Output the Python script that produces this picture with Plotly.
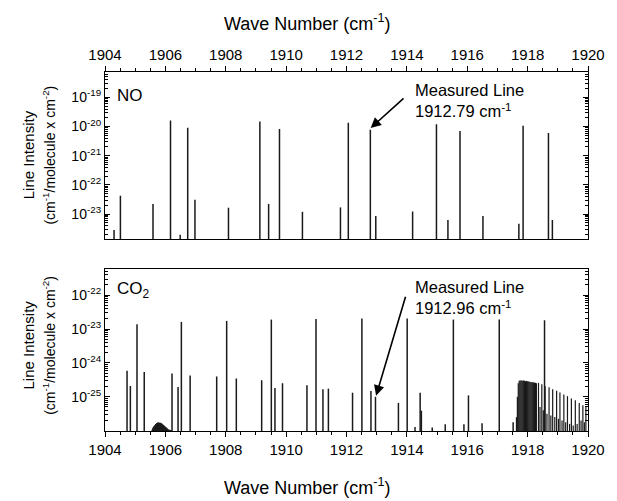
import plotly.graph_objects as go

# ---------------- data ----------------
# NO lines: wavenumber (cm-1) and log10 line intensity
no_wn = [1904.30, 1904.51, 1905.59, 1906.17, 1906.49, 1906.74, 1906.98, 1908.09,
         1909.13, 1909.42, 1909.78, 1910.54, 1911.80, 1912.06, 1912.79, 1912.97,
         1914.19, 1914.98, 1915.36, 1915.76, 1916.52, 1917.71, 1917.85, 1918.69, 1918.82]
no_log = [-23.54, -22.37, -22.65, -19.79, -23.71, -20.04, -22.51, -22.78,
          -19.83, -22.65, -20.08, -22.92, -22.77, -19.87, -20.11, -23.06,
          -22.91, -19.92, -23.20, -20.15, -23.06, -23.33, -19.97, -20.22, -23.20]

# CO2 lines
co2_wn = [1904.73, 1904.84, 1905.06, 1905.30, 1906.22, 1906.42, 1906.53, 1906.82,
          1907.70, 1908.03, 1908.35, 1909.19, 1909.51, 1909.63, 1909.88, 1910.69,
          1910.99, 1911.22, 1911.40, 1912.20, 1912.51, 1912.81, 1912.96, 1913.72,
          1914.01, 1914.27, 1914.44, 1914.48, 1914.84, 1915.27, 1915.54, 1915.89,
          1916.04, 1916.49, 1917.06, 1917.52, 1918.56]
co2_log = [-24.23, -24.68, -22.86, -24.27, -24.31, -24.71, -22.79, -24.37,
           -24.40, -22.76, -24.46, -24.51, -22.72, -24.74, -24.60, -24.66,
           -22.70, -24.78, -24.76, -24.88, -22.69, -24.83, -25.00, -25.18,
           -22.69, -25.89, -24.88, -25.41, -25.91, -25.81, -22.72, -25.81,
           -24.96, -25.78, -22.72, -25.75, -22.74]

# CO2 dense band lines near 1918 cm-1
band_wn = [1917.63, 1917.66, 1917.69, 1917.72, 1917.75, 1917.78, 1917.81, 1917.84,
           1917.87, 1917.90, 1917.93, 1917.96, 1917.99, 1918.02, 1918.05, 1918.08,
           1918.11, 1918.14, 1918.17, 1918.20, 1918.23, 1918.26, 1918.29,
           1918.36, 1918.47, 1918.58, 1918.71, 1918.83, 1918.96, 1919.07, 1919.20,
           1919.32, 1919.45, 1919.58, 1919.71, 1919.83, 1919.93,
           1918.41, 1918.52, 1918.64, 1918.77, 1918.90, 1919.02, 1919.14, 1919.26,
           1919.39, 1919.51, 1919.64, 1919.77, 1919.88]
band_log = [-25.60, -25.00, -24.60, -24.53, -24.52, -24.52, -24.52, -24.53,
            -24.52, -24.53, -24.54, -24.53, -24.54, -24.55, -24.55, -24.56,
            -24.56, -24.57, -24.57, -24.58, -24.58, -24.59, -24.60,
            -24.59, -24.63, -24.69, -24.72, -24.78, -24.82, -24.87, -24.93,
            -24.98, -25.05, -25.10, -25.18, -25.25, -25.30,
            -25.30, -25.40, -25.50, -25.55, -25.60, -25.65, -25.70, -25.75,
            -25.80, -25.85, -25.80, -25.70, -25.75]

# CO2 weak hump near 1905.8 cm-1 (envelope of very weak lines)
hump_wn = [1905.55, 1905.60, 1905.65, 1905.70, 1905.75, 1905.80, 1905.85, 1905.90,
           1905.95, 1906.00, 1906.05, 1906.10, 1906.15, 1906.20]
hump_log = [-26.01, -25.90, -25.83, -25.79, -25.77, -25.77, -25.78, -25.81,
            -25.85, -25.90, -25.94, -25.97, -25.99, -26.00]

x_ticks = [1904, 1906, 1908, 1910, 1912, 1914, 1916, 1918, 1920]
no_ytick_exp = [-19, -20, -21, -22, -23]
co2_ytick_exp = [-22, -23, -24, -25]

# ---------------- helpers ----------------
BASE = 1e-30


def stick_xy(wn, lg):
    xs, ys = [], []
    for w, l in zip(wn, lg):
        xs += [w, w, None]
        ys += [BASE, 10 ** l, None]
    return xs, ys


def minor_vals(lo, hi):
    vals = []
    for d in range(lo, hi):
        for k in range(2, 10):
            vals.append(k * 10.0 ** d)
    return vals


FONT = "Liberation Sans, Arial, Helvetica, sans-serif"
LC = "#1a1a1a"

fig = go.Figure()

x1, y1 = stick_xy(no_wn, no_log)
fig.add_trace(go.Scatter(x=x1, y=y1, mode="lines", line=dict(color=LC, width=1.5),
                         xaxis="x", yaxis="y", showlegend=False, hoverinfo="skip"))

x2, y2 = stick_xy(co2_wn, co2_log)
fig.add_trace(go.Scatter(x=x2, y=y2, mode="lines", line=dict(color=LC, width=1.5),
                         xaxis="x2", yaxis="y2", showlegend=False, hoverinfo="skip"))

x3, y3 = stick_xy(band_wn, band_log)
fig.add_trace(go.Scatter(x=x3, y=y3, mode="lines", line=dict(color=LC, width=1.2),
                         xaxis="x2", yaxis="y2", showlegend=False, hoverinfo="skip"))

hx = [hump_wn[0]] + hump_wn + [hump_wn[-1]]
hy = [BASE] + [10 ** v for v in hump_log] + [BASE]
fig.add_trace(go.Scatter(x=hx, y=hy, mode="lines", fill="toself", fillcolor=LC,
                         line=dict(color=LC, width=1), xaxis="x2", yaxis="y2",
                         showlegend=False, hoverinfo="skip"))


def sup_text(e):
    return "10<sup>%d</sup>" % e


common_x = dict(range=[1904, 1920], tickmode="array", tickvals=x_ticks,
                ticktext=[str(v) for v in x_ticks], showline=True, linecolor="black",
                linewidth=1.2, mirror=True, ticks="outside", ticklen=5, tickcolor="black",
                showgrid=False, zeroline=False,
                minor=dict(tickmode="array",
                           tickvals=[1904 + 0.5 * i for i in range(33)],
                           ticks="outside", ticklen=3, tickcolor="black", showgrid=False),
                tickfont=dict(family=FONT, size=15, color="black"))

common_y = dict(type="log", showline=True, linecolor="black", linewidth=1.2,
                mirror="ticks", ticks="inside", ticklen=5, tickcolor="black",
                showgrid=False, zeroline=False,
                tickfont=dict(family=FONT, size=14, color="black"))

fig.update_layout(
    width=617, height=501,
    margin=dict(l=105, r=20, t=72, b=70),
    paper_bgcolor="white", plot_bgcolor="white",
    font=dict(family=FONT, color="black"),
    xaxis=dict(common_x, anchor="y", side="top", domain=[0, 1]),
    yaxis=dict(common_y, domain=[0.535, 1.0], anchor="x",
               range=[-23.85, -18.13],
               tickmode="array", tickvals=[10.0 ** e for e in no_ytick_exp],
               ticktext=[sup_text(e) for e in no_ytick_exp],
               minor=dict(tickmode="array", tickvals=minor_vals(-24, -18),
                          ticks="inside", ticklen=3, tickcolor="black", showgrid=False)),
    xaxis2=dict(common_x, anchor="y2", side="bottom", domain=[0, 1]),
    yaxis2=dict(common_y, domain=[0.0, 0.451], anchor="x2",
                range=[-26.01, -21.23],
                tickmode="array", tickvals=[10.0 ** e for e in co2_ytick_exp],
                ticktext=[sup_text(e) for e in co2_ytick_exp],
                minor=dict(tickmode="array", tickvals=minor_vals(-27, -21),
                           ticks="inside", ticklen=3, tickcolor="black", showgrid=False)),
)

ann = []
# axis titles
for yy in [1.139, -0.155]:
    ann.append(dict(text="Wave Number (cm<sup>-1</sup>)", xref="paper", yref="paper",
                    x=0.42, y=yy, xanchor="center", yanchor="middle", showarrow=False,
                    font=dict(family=FONT, size=18, color="black")))
for yc in [0.77, 0.24]:
    ann.append(dict(text="Line Intensity", xref="paper", yref="paper",
                    x=-0.158, y=yc, textangle=-90, xanchor="center", yanchor="middle",
                    showarrow=False, font=dict(family=FONT, size=15, color="black")))
    ann.append(dict(text="(cm<sup>-1</sup>/molecule x cm<sup>-2</sup>)", xref="paper",
                    yref="paper", x=-0.116, y=yc, textangle=-90, xanchor="center",
                    yanchor="middle", showarrow=False,
                    font=dict(family=FONT, size=14, color="black")))
# panel labels
ann.append(dict(text="NO", xref="x domain", yref="y domain", x=0.02, y=0.86,
                xanchor="left", yanchor="middle", showarrow=False,
                font=dict(family=FONT, size=17, color="black")))
ann.append(dict(text="CO<sub>2</sub>", xref="x2 domain", yref="y2 domain", x=0.02, y=0.87,
                xanchor="left", yanchor="middle", showarrow=False,
                font=dict(family=FONT, size=17, color="black")))
# measured line labels
ann.append(dict(text="Measured Line<br>1912.79 cm<sup>-1</sup>", xref="x", yref="y",
                x=1914.2, y=-19.12, xanchor="left", yanchor="middle", align="left",
                showarrow=False, font=dict(family=FONT, size=16.5, color="black")))
ann.append(dict(text="", xref="x", yref="y", x=1912.80, y=-20.05,
                axref="x", ayref="y", ax=1913.94, ay=-18.99, showarrow=True,
                arrowhead=2, arrowsize=1.3, arrowwidth=1.6, arrowcolor="black"))
ann.append(dict(text="Measured Line<br>1912.96 cm<sup>-1</sup>", xref="x2", yref="y2",
                x=1914.2, y=-22.08, xanchor="left", yanchor="middle", align="left",
                showarrow=False, font=dict(family=FONT, size=16.5, color="black")))
ann.append(dict(text="", xref="x2", yref="y2", x=1912.98, y=-24.97,
                axref="x2", ayref="y2", ax=1913.97, ay=-22.0, showarrow=True,
                arrowhead=2, arrowsize=1.3, arrowwidth=1.6, arrowcolor="black"))
fig.update_layout(annotations=ann)

fig.write_html("out.html")
